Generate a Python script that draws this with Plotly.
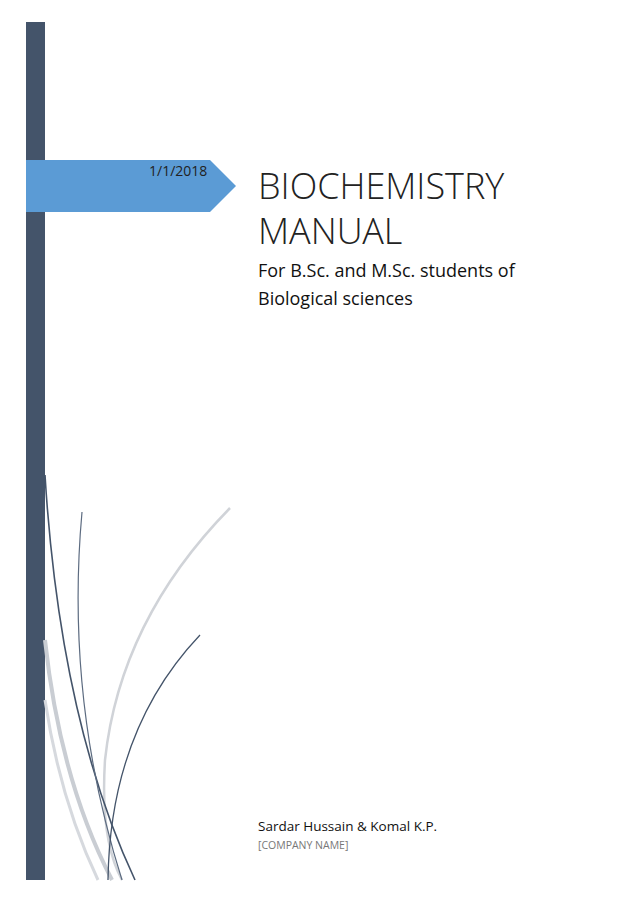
import plotly.graph_objects as go

W, H = 638, 902
OFF = 8  # page body margin in the viewer

# page text
date_text = "1/1/2018"
title_lines = ["BIOCHEMISTRY", "MANUAL"]
subtitle_lines = ["For B.Sc. and M.Sc. students of", "Biological sciences"]
author_text = "Sardar Hussain & Komal K.P."
company_text = "[COMPANY NAME]"

# decorative curves (page pixel coords): path, colour, width
curves = [
    ("M 45 640 Q 60 780 112 880", "#c9cdd3", 4),
    ("M 45 700 Q 60 800 98 880", "#d6d9de", 3),
    ("M 230 508 Q 120 620 105 760 Q 100 840 122 880", "#d0d3d8", 2.5),
    ("M 45 475 Q 60 720 135 880", "#44546a", 1.6),
    ("M 82 512 Q 65 700 122 880", "#5c6b80", 1.2),
    ("M 200 635 Q 110 730 108 880", "#44546a", 1.3),
]

fig = go.Figure()
fig.add_trace(go.Scatter(x=[0], y=[0], mode="markers", marker=dict(opacity=0),
                         hoverinfo="skip", showlegend=False))

shapes = [
    dict(type="rect", x0=26, x1=45, y0=22, y1=880, fillcolor="#44546a", line_width=0),
    dict(type="path", path="M 26 160 L 210 160 L 236 186 L 210 212 L 26 212 Z",
         fillcolor="#5b9bd5", line_width=0),
]
for p, c, w in curves:
    shapes.append(dict(type="path", path=p, line=dict(color=c, width=w)))
fig.update_layout(shapes=shapes)

font = "Open Sans"
ann = [
    dict(x=209, y=170, text=date_text, xanchor="right", font=dict(size=14, color="#222")),
]
for i, t in enumerate(title_lines):
    ann.append(dict(x=256, y=185 + i * 45, text=t, xanchor="left",
                    font=dict(size=36, color="#222", family="Open Sans Light, Open Sans")))
for i, t in enumerate(subtitle_lines):
    ann.append(dict(x=256, y=270 + i * 28, text=t, xanchor="left", font=dict(size=18, color="#111")))
ann.append(dict(x=256, y=826, text=author_text, xanchor="left", font=dict(size=13.5, color="#111")))
ann.append(dict(x=256, y=845, text=company_text, xanchor="left", font=dict(size=10.5, color="#777")))
for a in ann:
    a.update(xref="x", yref="y", showarrow=False, yanchor="middle")
    a["font"].setdefault("family", font)
fig.update_layout(annotations=ann)

fig.update_layout(
    width=W, height=H, margin=dict(l=0, r=0, t=0, b=0),
    paper_bgcolor="white", plot_bgcolor="white", showlegend=False,
    xaxis=dict(range=[OFF, W + OFF], visible=False, fixedrange=True),
    yaxis=dict(range=[H + OFF, OFF], visible=False, fixedrange=True),
)
fig.write_html("out.html", config={"displayModeBar": False})
